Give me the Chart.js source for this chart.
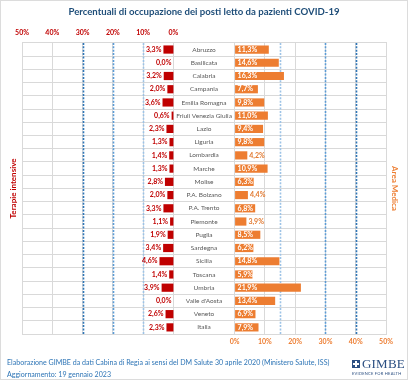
<!DOCTYPE html>
<html>
<head>
<meta charset="utf-8">
<script src="https://cdn.jsdelivr.net/npm/chart.js@4/dist/chart.umd.min.js"></script>
<style>
  body { margin: 0; background: #fff; }
  #wrap { position: relative; width: 408px; height: 380px; overflow: hidden; }
  #frame { position: absolute; left: 0; top: 0; width: 406px; height: 378px; border: 1px solid #dcdcdc; pointer-events: none; }
  .foot { position: absolute; left: 7px; font-family: Lato, sans-serif; font-size: 7.6px; color: #2e75b6; white-space: nowrap; transform: scaleX(0.93); transform-origin: 0 0; }
  #logo { position: absolute; left: 351px; top: 356px; width: 50px; height: 22px; }
  #logo .ico { position: absolute; left: 1px; top: 4px; width: 8px; height: 8px; background: #2b4f82; }
  #logo .ico::before { content: ""; position: absolute; left: 3px; top: 1px; width: 2px; height: 6px; background: #fff; }
  #logo .ico::after { content: ""; position: absolute; left: 1px; top: 3px; width: 6px; height: 2px; background: #fff; }
  #logo .name { position: absolute; left: 11px; top: 0px; font-family: "Liberation Serif", serif; font-size: 13px; color: #2b4f82; letter-spacing: 0.2px; }
  #logo .sub { position: absolute; left: 1px; top: 15px; font-family: Lato, sans-serif; font-size: 8px; color: #2b4f82; transform: scale(0.5); transform-origin: 0 0; white-space: nowrap; letter-spacing: 0.5px; }
</style>
</head>
<body>
<div id="wrap">
  <canvas id="occupancyChart" width="408" height="380"></canvas>
  <div class="foot" style="top:357px">Elaborazione GIMBE da dati Cabina di Regia ai sensi del DM Salute 30 aprile 2020 (Ministero Salute, ISS)</div>
  <div class="foot" style="top:369px">Aggiornamento: 19 gennaio 2023</div>
  <div id="logo"><div class="ico"></div><div class="name">GIMBE</div><div class="sub">EVIDENCE FOR HEALTH</div></div>
  <div id="frame"></div>
</div>
<script>
let regions = ["Abruzzo", "Basilicata", "Calabria", "Campania", "Emilia Romagna", "Friuli Venezia Giulia",
  "Lazio", "Liguria", "Lombardia", "Marche", "Molise", "P.A. Bolzano", "P.A. Trento", "Piemonte",
  "Puglia", "Sardegna", "Sicilia", "Toscana", "Umbria", "Valle d'Aosta", "Veneto", "Italia"];
let icuValues = [3.3, 0.0, 3.2, 2.0, 3.6, 0.6, 2.3, 1.3, 1.4, 1.3, 2.8, 2.0, 3.3, 1.1, 1.9, 3.4, 4.6, 1.4, 3.9, 0.0, 2.6, 2.3];
let areaMedicaValues = [11.3, 14.6, 16.3, 7.7, 9.8, 11.0, 9.4, 9.8, 4.2, 10.9, 6.3, 4.4, 6.8, 3.9, 8.5, 6.2, 14.8, 5.9, 21.9, 13.4, 6.9, 7.9];
let topTickLabels = ["50%", "40%", "30%", "20%", "10%", "0%"];
let bottomTickLabels = ["0%", "10%", "20%", "30%", "40%", "50%"];
let icuThresholds = [10, 20, 30];
let areaMedicaThresholds = [15, 30, 40];

// gap (in % units) between the two panels, where the region names sit
const GAP = 20.2;
const thresholdColors = ["#9dc3e6", "#5b9bd5", "#2e75b6"];
const fmt = (v) => v.toFixed(1).replace(".", ",") + "%";

// left panel is mirrored: value v sits at -(GAP + v)
const tickValues = [50, 40, 30, 20, 10, 0].map((v) => -(GAP + v)).concat([0, 10, 20, 30, 40, 50]);

Chart.defaults.font.family = "Lato, 'Open Sans', sans-serif";

const thresholdLines = {
  id: "thresholdLines",
  beforeDatasetsDraw(chart) {
    const { ctx, chartArea, scales } = chart;
    ctx.save();
    ctx.lineWidth = 1.6;
    ctx.setLineDash([2, 1.4]);
    const draw = (value, color) => {
      const px = Math.round(scales.x.getPixelForValue(value)) + 0.5;
      ctx.strokeStyle = color;
      ctx.beginPath();
      ctx.moveTo(px, chartArea.top);
      ctx.lineTo(px, chartArea.bottom);
      ctx.stroke();
    };
    icuThresholds.forEach((t, i) => draw(-(GAP + t), thresholdColors[i]));
    areaMedicaThresholds.forEach((t, i) => draw(t, thresholdColors[i]));
    ctx.restore();
  },
};

const valueLabels = {
  id: "valueLabels",
  afterDatasetsDraw(chart) {
    const { ctx, scales } = chart;
    const x = scales.x;
    const y = scales.y;
    const midX = (x.getPixelForValue(-GAP) + x.getPixelForValue(0)) / 2;
    ctx.save();
    ctx.textBaseline = "middle";
    regions.forEach((name, i) => {
      const py = y.getPixelForValue(i);
      ctx.font = "6.5px Lato";
      ctx.fillStyle = "#595959";
      ctx.textAlign = "center";
      ctx.fillText(name, midX, py);

      ctx.font = "bold 7px Lato";
      ctx.fillStyle = "#c00000";
      ctx.textAlign = "right";
      ctx.fillText(fmt(icuValues[i]), x.getPixelForValue(-(GAP + icuValues[i])) - 2, py);

      const am = areaMedicaValues[i];
      ctx.textAlign = "left";
      if (am >= 5) {
        ctx.fillStyle = "#ffffff";
        ctx.fillText(fmt(am), x.getPixelForValue(0) + 3, py);
      } else {
        ctx.fillStyle = "#e2792f";
        ctx.fillText(fmt(am), x.getPixelForValue(am) + 2, py);
      }
    });
    ctx.restore();
  },
};

new Chart("occupancyChart", {
  type: "bar",
  data: {
    labels: regions,
    datasets: [
      {
        label: "Terapie intensive",
        data: icuValues.map((v) => [-(GAP + v), -GAP]),
        backgroundColor: "#c00000",
        grouped: false,
        barPercentage: 0.62,
        categoryPercentage: 1,
      },
      {
        label: "Area Medica",
        data: areaMedicaValues.map((v) => [0, v]),
        backgroundColor: "#ed7d31",
        grouped: false,
        barPercentage: 0.62,
        categoryPercentage: 1,
      },
    ],
  },
  options: {
    indexAxis: "y",
    responsive: false,
    animation: false,
    layout: { padding: { left: 4.4, right: 4.4, top: 6, bottom: 29.6 } },
    plugins: {
      legend: { display: false },
      tooltip: { enabled: false },
      title: {
        display: true,
        text: "Percentuali di occupazione dei posti letto da pazienti COVID-19",
        color: "#1f4e79",
        font: { size: 9.6, weight: "bold" },
        padding: { top: 0, bottom: 5 },
      },
    },
    scales: {
      x: {
        type: "linear",
        position: "bottom",
        min: -(GAP + 50),
        max: 50,
        afterBuildTicks: (scale) => { scale.ticks = tickValues.map((v) => ({ value: v })); },
        grid: { color: "#d9d9d9", drawTicks: false },
        border: { color: "#d9d9d9" },
        ticks: {
          autoSkip: false,
          maxRotation: 0,
          padding: 4,
          color: "#ed7d31",
          font: { size: 7, weight: "bold" },
          callback: (value, index) => (index >= 6 ? bottomTickLabels[index - 6] : ""),
        },
      },
      xTop: {
        type: "linear",
        position: "top",
        min: -(GAP + 50),
        max: 50,
        afterBuildTicks: (scale) => { scale.ticks = tickValues.map((v) => ({ value: v })); },
        grid: { display: false, drawTicks: false },
        border: { color: "#d9d9d9" },
        ticks: {
          autoSkip: false,
          maxRotation: 0,
          padding: 6,
          color: "#c00000",
          font: { size: 7, weight: "bold" },
          callback: (value, index) => (index < 6 ? topTickLabels[index] : ""),
        },
      },
      y: {
        type: "category",
        position: "left",
        grid: { color: "#d9d9d9", drawTicks: false, offset: true },
        border: { display: false },
        ticks: { display: false },
        title: { display: true, text: "Terapie intensive", color: "#c00000", font: { size: 8, weight: "bold" } },
      },
      y2: {
        type: "category",
        position: "right",
        labels: regions,
        grid: { display: false, drawTicks: false },
        border: { display: false },
        ticks: { display: false },
        title: { display: true, text: "Area Medica", color: "#ed7d31", font: { size: 8, weight: "bold" } },
      },
    },
  },
  plugins: [thresholdLines, valueLabels],
});
</script>
</body>
</html>
